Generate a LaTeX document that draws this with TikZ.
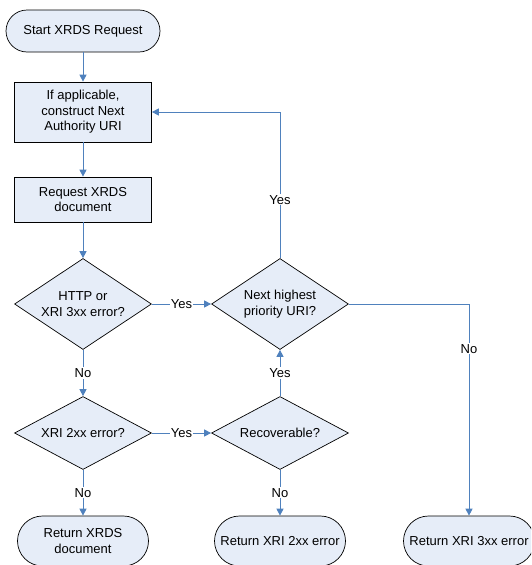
\documentclass[tikz,border=0pt]{standalone}
\usepackage{fontspec}
\setmainfont{Liberation Sans}
\usetikzlibrary{shapes.geometric,arrows.meta}
\definecolor{boxfill}{HTML}{E6EDF8}
\definecolor{arrowblue}{HTML}{4F81BD}
\begin{document}
\begin{tikzpicture}[x=1pt,y=-1pt,
  every node/.style={font=\fontsize{13}{15.5}\selectfont},
  base/.style={draw=black,line width=0.7pt,fill=boxfill,align=center,inner sep=0pt},
  procbox/.style={base,rectangle,minimum width=137pt},
  termbox/.style={base,rectangle,rounded corners=21pt,minimum height=42pt},
  decision/.style={base,diamond,shape aspect=1.5,minimum width=137pt},
  arr/.style={draw=arrowblue,line width=0.9pt,-{Triangle[width=7pt,length=7pt]}},
  lbl/.style={fill=white,inner sep=1pt,text=black}
]
\path[use as bounding box] (0,0) rectangle (531,565);
\clip (0,0) rectangle (531,565);
\node[termbox,minimum width=154pt] (start) at (83,31) {Start XRDS Request};
\node[procbox,minimum height=60pt] (box1) at (83,112) {If applicable,\\construct Next\\Authority URI};
\node[procbox,minimum height=45pt] (box2) at (83,199.5) {Request XRDS\\document};
\node[decision,minimum height=91pt] (d1) at (83,304) {HTTP or\\XRI 3xx error?};
\node[decision,minimum height=91pt] (d2) at (280,304) {Next highest\\priority URI?};
\node[decision,minimum height=73pt] (d3) at (83,433) {XRI 2xx error?};
\node[decision,minimum height=73pt] (d4) at (280,433) {Recoverable?};
\node[termbox,rounded corners=25pt,minimum height=50pt,minimum width=131pt] (ret1) at (83,541) {Return XRDS\\document};
\node[termbox,rounded corners=25pt,minimum height=50pt,minimum width=131pt] (ret2) at (280,541) {Return XRI 2xx error};
\node[termbox,rounded corners=25pt,minimum height=50pt,minimum width=131pt] (ret3) at (469,541) {Return XRI 3xx error};

\draw[arr] (start) -- (box1);
\draw[arr] (box1) -- (box2);
\draw[arr] (box2) -- (d1);
\draw[arr] (d1) -- node[lbl] {Yes} (d2);
\draw[arr] (d1) -- node[lbl] {No} (d3);
\draw[arr] (d3) -- node[lbl] {Yes} (d4);
\draw[arr] (d4) -- node[lbl] {Yes} (d2);
\draw[arr] (d3) -- node[lbl] {No} (ret1);
\draw[arr] (d4) -- node[lbl] {No} (ret2);
\draw[arr] (d2.north) |- node[lbl,pos=0.2] {Yes} (box1.east);
\draw[arr] (d2.east) -| node[lbl,pos=0.606] {No} (ret3.north);
\end{tikzpicture}
\end{document}
